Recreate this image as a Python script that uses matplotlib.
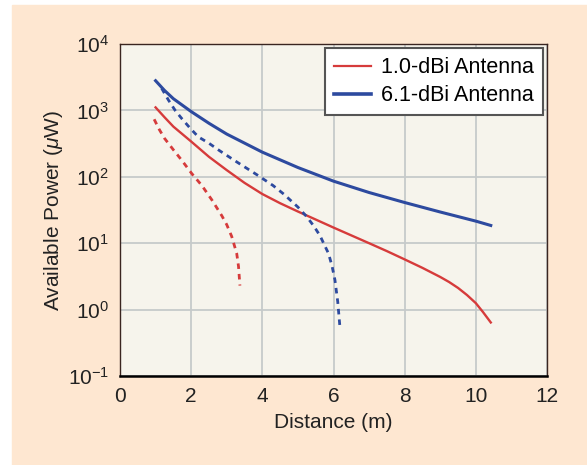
import matplotlib
matplotlib.use("Agg")
from matplotlib import pyplot as plt
from matplotlib.patches import Rectangle

plt.rcParams['font.family'] = ['Liberation Sans', 'DejaVu Sans']
plt.rcParams['mathtext.fontset'] = 'custom'
plt.rcParams['mathtext.rm'] = 'Liberation Sans'
plt.rcParams['mathtext.it'] = 'Liberation Sans:italic'

# values (distance in m, power in uW)
d_blue = [1.0, 1.25, 1.5, 2.0, 2.5, 3.0, 4.0, 5.0, 6.0, 7.0, 8.0, 9.0, 10.0, 10.42]
p_blue = [2800, 2000, 1500, 960, 640, 440, 235, 138, 86, 58, 41, 29.5, 21.5, 18.5]

d_red = [1.0, 1.25, 1.5, 2.0, 2.5, 3.0, 3.5, 4.0, 4.5, 5.0, 6.0, 7.0, 7.5, 8.0,
         8.5, 9.0, 9.25, 9.5, 9.75, 10.0, 10.2, 10.42]
p_red = [1110, 790, 570, 340, 200, 126, 81, 55, 40, 30, 17.2, 10, 7.6, 5.7,
         4.25, 3.1, 2.6, 2.12, 1.66, 1.25, 0.92, 0.64]

d_blue_dash = [1.17, 1.36, 1.55, 1.73, 1.97, 2.2, 2.5, 2.81, 3.3, 3.84, 4.3, 4.6,
               5.0, 5.25, 5.45, 5.62, 5.86, 5.96, 6.04, 6.12, 6.18]
p_blue_dash = [2150, 1435, 1000, 760, 540, 400, 320, 245, 165, 108, 74, 55,
               35, 25, 18, 13, 7, 4.5, 2.8, 1.3, 0.55]

d_red_dash = [0.96, 1.1, 1.25, 1.5, 1.73, 2.01, 2.3, 2.58, 2.86, 3.0, 3.14,
              3.28, 3.33, 3.37]
p_red_dash = [735, 520, 380, 255, 179, 113, 74, 45, 26, 19, 12.6,
              7, 4.5, 2.3]

red = '#d63b3b'
blue = '#2d4a9f'

fig = plt.figure(figsize=(5.87, 4.65), dpi=100, facecolor='white')
bg = Rectangle((12 / 587, 0), 1, 1 - 5 / 465, transform=fig.transFigure,
               color='#fee7d1', zorder=-10)
fig.add_artist(bg)

ax = fig.add_axes([120 / 587, 89 / 465, 427 / 587, 332 / 465])
ax.set_zorder(1)
ax.set_facecolor('#f6f4ec')

ax.plot(d_red, p_red, c=red, lw=1.7, label='1.0-dBi Antenna')
ax.plot(d_blue, p_blue, c=blue, lw=2.2, label='6.1-dBi Antenna')
ax.plot(d_blue_dash, p_blue_dash, c=blue, lw=2.0, ls=(0, (2.0, 1.8)))
ax.plot(d_red_dash, p_red_dash, c=red, lw=2.0, ls=(0, (2.0, 1.8)))

ax.set_yscale('log')
ax.set_xlim(0, 12)
ax.set_ylim(1e-1, 1e4)
ax.set_xticks(range(0, 13, 2))
ax.set_yticks([1e-1, 1, 10, 100, 1e3, 1e4])
ax.minorticks_off()
ax.grid(True, color='#c6caca', lw=1.3)
ax.set_axisbelow(True)
ax.tick_params(axis='both', which='both', length=0, labelsize=15, pad=8,
               colors='#222222')

ax.set_xlabel('Distance (m)', fontsize=15, color='#222222', labelpad=5)
ax.set_ylabel(r'Available Power ($\mu$W)', fontsize=15, color='#222222', labelpad=2)

for s in ['top', 'right', 'left']:
    ax.spines[s].set_color('#3a2520')
    ax.spines[s].set_linewidth(1.0)
ax.spines['bottom'].set_color('black')
ax.spines['bottom'].set_linewidth(1.8)

leg = ax.legend(loc='upper right', fontsize=15.5, fancybox=False, framealpha=1,
                edgecolor='#555555', borderpad=0.42, handlelength=1.7,
                handletextpad=0.45, labelspacing=0.32, borderaxespad=0.2)
leg.get_frame().set_linewidth(1.5)
leg.get_lines()[0].set_linewidth(1.6)
leg.get_lines()[1].set_linewidth(2.6)

fig.savefig('out.png', dpi=100)
